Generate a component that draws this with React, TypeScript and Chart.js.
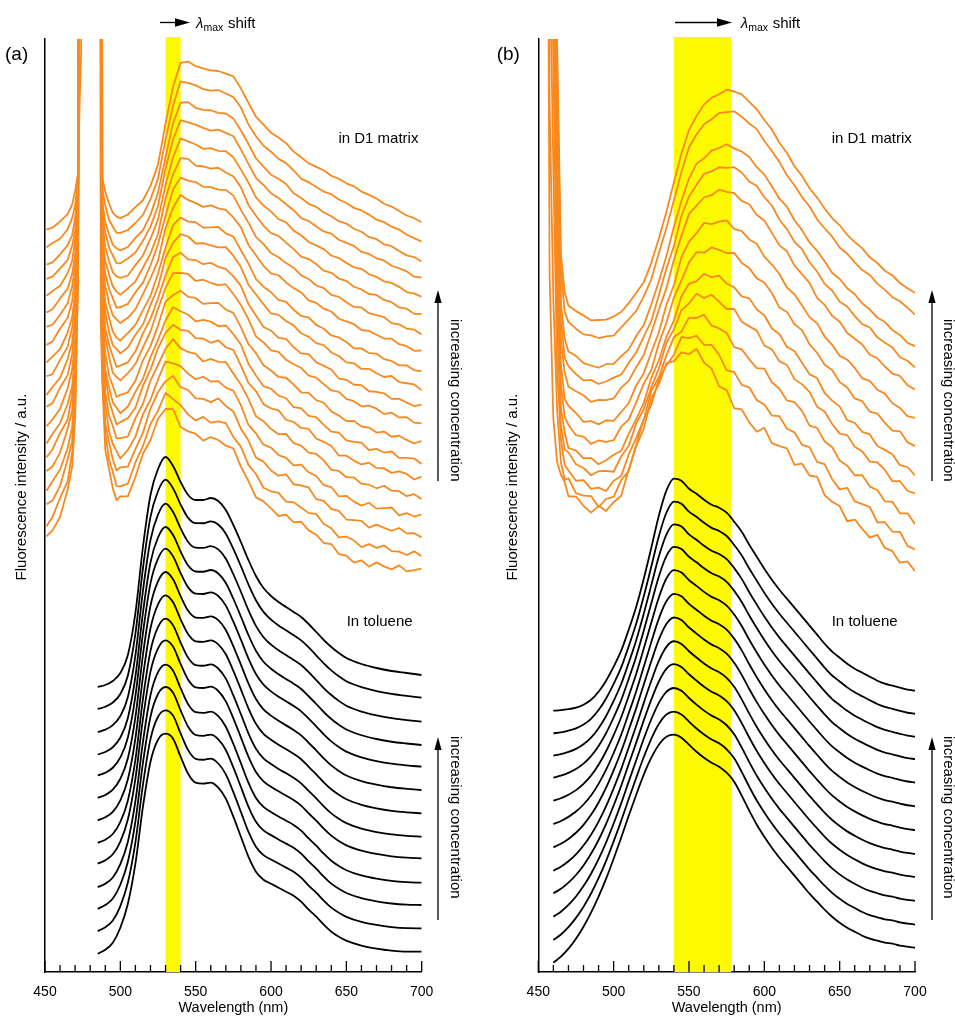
import React, { useEffect, useRef } from 'react';
import { Chart, registerables } from 'chart.js';

Chart.register(...registerables);

const FONT = '"Liberation Sans", Arial, Helvetica, sans-serif';
Chart.defaults.font.family = FONT;

// ---------- axis ----------
const X_MIN = 450;
const X_MAX = 700;
const Y_MAX = 933;

// ---------- highlighted λmax bands ----------
const BAND_A = [530, 540];
const BAND_B = [540, 578];

// ---------- small hand-read ripple (measurement noise of the film spectra) ----------
const RIPPLE = [0.4, -0.9, 0.7, -0.2, -0.8, 1.0, -0.5, 0.2, 0.9, -1.0, 0.3, -0.4, 0.8, -0.7, 0.1, 0.6, -0.9, 0.5, -0.1, -0.6, 1.0, -0.3, 0.2, -0.8, 0.7, 0.4, -1.0, 0.6, -0.2, 0.9, -0.5, 0.0, -0.7, 0.8, -0.4, 0.3, -0.9];

// ================= Panel (a) =================
// toluene: stacked traces, value relative to each trace's level (700 nm)
const WL_TOL_A = [485, 490, 495, 500, 505, 510, 515, 520, 525, 530, 535, 540, 545, 550, 555, 560, 565, 570, 575, 580, 585, 590, 595, 600, 605, 610, 615, 620, 625, 630, 635, 640, 645, 650, 660, 670, 680, 690, 700];
const TOL_A_HIGH = [-12, -10, -6, 2, 20, 62, 128, 180, 206, 218, 209, 193, 180, 175, 175, 177, 174, 165, 150, 133, 115, 99, 87, 79, 73, 68, 63, 58, 51, 43, 35, 28, 22, 17, 11, 7, 4, 2, 0];
const TOL_A_LOW = [-2, 2, 9, 24, 48, 88, 145, 190, 212, 218, 213, 195, 178, 169, 168, 169, 164, 153, 135, 115, 95, 80, 72, 68, 64, 60, 56, 50, 42, 35, 27, 20, 15, 11, 6, 3, 1, 0, 0];
const TOL_A_LEVEL = [297, 274.3, 250.3, 227, 205.3, 182, 158.7, 135.3, 113.7, 89.3, 67, 43.7, 20.3];
const TOL_A_MIX = [0, 0.08, 0.17, 0.25, 0.33, 0.42, 0.5, 0.58, 0.67, 0.75, 0.83, 0.92, 1];

// D1 matrix film
const WL_D1_A = [451, 455, 460, 465, 468, 470, 472, 473, 474, 475, 480, 486, 487, 488, 490, 492.5, 495, 497.5, 500, 505, 510, 515, 520, 525, 530, 535, 540, 545, 550, 555, 560, 565, 570, 575, 580, 585, 590, 595, 600, 605, 610, 615, 620, 625, 630, 635, 640, 645, 650, 655, 660, 665, 670, 675, 680, 685, 690, 695, 700];
const D1_A_HIGH = [-8, -5, 0, 8, 18, 30, 50, 120, 170, 2500, 2500, 2500, 2500, 45, 30, 18, 10, 5, 4, 8, 14, 22, 36, 58, 98, 135, 160, 160, 156, 153, 152, 151, 149, 145, 134, 119, 106, 97, 90, 84, 79, 71, 64, 59, 55, 51, 47, 43, 39, 35, 31, 27, 23, 19, 15, 11, 7, 3, 0];
const D1_A_LOW = [33, 40, 58, 80, 105, 150, 300, 2500, 2500, 2500, 2500, 2500, 250, 190, 125, 100, 84, 74, 72, 77, 94, 115, 135, 152, 164, 160, 147, 140, 136, 134, 133, 132, 128, 120, 106, 90, 77, 68, 62, 59, 55, 50, 47, 43, 37, 31, 25, 19, 15, 12, 10, 8, 7, 6, 5, 3, 2, 1, 0];
const D1_A_LEVEL = [750, 731, 711, 693.7, 675.3, 657, 638.7, 620.3, 600.3, 583.7, 565.3, 548.7, 528.7, 510.3, 493.7, 475.3, 455.3, 437, 417, 400.3];
const D1_A_MIX = [0, 0.05, 0.1, 0.16, 0.21, 0.26, 0.32, 0.37, 0.42, 0.47, 0.53, 0.58, 0.63, 0.68, 0.74, 0.79, 0.84, 0.89, 0.95, 1];
const D1_A_NOISE = [0.8, 0.9, 1.1, 1.2, 1.3, 1.5, 1.6, 1.7, 1.9, 2, 2.1, 2.3, 2.4, 2.5, 2.7, 2.8, 2.9, 3.1, 3.2, 3.3];

// ================= Panel (b) =================
const WL_TOL_B = [460, 465, 470, 475, 480, 485, 490, 495, 500, 505, 510, 515, 520, 525, 530, 535, 540, 545, 550, 555, 560, 565, 570, 575, 580, 585, 590, 595, 600, 605, 610, 615, 620, 625, 630, 635, 640, 645, 650, 655, 660, 665, 670, 675, 680, 685, 690, 695, 700];
const TOL_B_HIGH = [0, 0.5, 1.5, 3, 6, 11, 19, 30, 44, 60, 81, 104, 132, 163, 195, 220, 232, 230, 222, 217, 211, 206, 203, 198, 189, 179, 166, 154, 142, 131, 121, 112, 103, 94, 85, 76, 67, 59, 53, 47, 42, 38, 34, 30, 27, 25, 23, 21, 20];
const TOL_B_LOW = [0, 6, 14, 24, 36, 50, 66, 84, 104, 125, 147, 168, 188, 205, 218, 226, 228, 225, 218, 211, 205, 200, 196, 190, 181, 167, 152, 138, 126, 115, 105, 96, 87, 78, 69, 61, 53, 46, 40, 35, 31, 27, 24, 22, 20, 19, 17, 16, 15];
const TOL_B_LEVEL = [261.3, 238.7, 216.3, 194.3, 171.3, 148, 124.7, 101.3, 78.7, 55.3, 32, 9.3];
const TOL_B_MIX = [0, 0.09, 0.18, 0.27, 0.36, 0.45, 0.55, 0.64, 0.73, 0.82, 0.91, 1];

const WL_D1_B = [455, 457.5, 460, 462.5, 465, 467.5, 470, 475, 480, 485, 490, 495, 500, 505, 510, 515, 520, 525, 530, 535, 540, 545, 550, 555, 560, 565, 570, 575, 580, 585, 590, 595, 600, 605, 610, 615, 620, 625, 630, 635, 640, 645, 650, 655, 660, 665, 670, 675, 680, 685, 690, 695, 700];
const D1_B_HIGH = [1500, 1200, 800, 250, 40, 0, -12, -18, -23, -26, -27, -26, -24, -18, -10, 0, 12, 30, 55, 82, 110, 140, 163, 178, 188, 195, 200, 203, 202, 198, 192, 184, 174, 163, 151, 140, 128, 117, 106, 95, 85, 76, 67, 59, 51, 44, 37, 30, 23, 17, 11, 5, 0];
const D1_B_LOW = [1200, 300, 150, 115, 98, 88, 82, 74, 68, 64, 62, 64, 70, 82, 100, 125, 150, 172, 190, 205, 215, 221, 223, 220, 213, 203, 192, 181, 170, 160, 152, 146, 140, 133, 126, 120, 114, 108, 100, 92, 82, 71, 64, 57, 51, 45, 39, 33, 27, 21, 15, 8, 0];
const D1_B_LEVEL = [678.7, 658.7, 625.3, 605.3, 582, 552, 525.3, 497, 475.3, 448.7, 422, 398.7];
const D1_B_MIX = [0, 0.03, 0.08, 0.12, 0.18, 0.26, 0.35, 0.45, 0.56, 0.69, 0.84, 1];
const D1_B_NOISE = [1, 1.3, 1.6, 2, 2.3, 2.6, 3, 3.3, 3.7, 4.2, 4.8, 5.5];

const ORANGE = '#f7891f';
const BLACK = '#000000';
const YELLOW = '#fcf900';

function buildGroup(wl: number[], hi: number[], lo: number[], levels: number[], mix: number[], noise: number[] | null, color: string, width: number, smooth: boolean) {
  return levels.map((lvl, i) => ({
    data: wl.map((w, j) => {
      const rel = hi[j] * (1 - mix[i]) + lo[j] * mix[i];
      const n = noise && Math.abs(rel) < 1000 ? noise[i] * RIPPLE[(j + i * 11) % RIPPLE.length] : 0;
      return { x: w, y: lvl + rel + n };
    }),
    borderColor: color,
    borderWidth: width,
    borderJoinStyle: 'round',
    pointRadius: 0,
    fill: false,
    tension: smooth ? 0.4 : 0,
    cubicInterpolationMode: smooth ? 'monotone' : 'default',
    clip: 0,
  }));
}

type Decor = {
  tag: string; tagX: number; arrow: [number, number]; lambdaX: number; yTitleX: number;
  d1X: number; tolX: number; incArrowX: number; incTextX: number; band: number[];
};

function makePlugins(d: Decor) {
  const band = {
    id: 'band',
    beforeDatasetsDraw(chart: any) {
      const { ctx, chartArea, scales } = chart;
      const x1 = scales.x.getPixelForValue(d.band[0]);
      const x2 = scales.x.getPixelForValue(d.band[1]);
      ctx.save();
      ctx.fillStyle = YELLOW;
      ctx.fillRect(x1, chartArea.top - 2, x2 - x1, chartArea.bottom - chartArea.top + 2);
      ctx.restore();
    },
  };
  const decor = {
    id: 'decor',
    afterDraw(chart: any) {
      const { ctx, chartArea, scales } = chart;
      const xs = scales.x;
      ctx.save();
      // inward tick marks
      ctx.strokeStyle = '#000';
      ctx.lineWidth = 1.3;
      for (let v = X_MIN; v <= X_MAX; v += 10) {
        const px = xs.getPixelForValue(v);
        const len = v % 50 === 0 ? 11 : 7;
        ctx.beginPath();
        ctx.moveTo(px, chartArea.bottom);
        ctx.lineTo(px, chartArea.bottom - len);
        ctx.stroke();
      }
      ctx.fillStyle = '#000';
      // panel tag
      ctx.font = `19px ${FONT}`;
      ctx.textBaseline = 'middle';
      ctx.textAlign = 'left';
      ctx.fillText(d.tag, d.tagX, 55);
      // lambda max shift arrow
      const [a1, a2] = d.arrow;
      ctx.lineWidth = 1.3;
      ctx.beginPath();
      ctx.moveTo(a1, 22.5);
      ctx.lineTo(a2 - 8, 22.5);
      ctx.stroke();
      ctx.beginPath();
      ctx.moveTo(a2 - 15, 18.3);
      ctx.lineTo(a2, 22.5);
      ctx.lineTo(a2 - 15, 26.7);
      ctx.closePath();
      ctx.fill();
      ctx.textBaseline = 'alphabetic';
      ctx.font = `italic 15px ${FONT}`;
      ctx.fillText('λ', d.lambdaX, 27.5);
      ctx.font = `10.5px ${FONT}`;
      ctx.fillText('max', d.lambdaX + 7.5, 31);
      ctx.font = `15px ${FONT}`;
      ctx.fillText('shift', d.lambdaX + 32, 27.5);
      // labels
      ctx.fillText('in D1 matrix', d.d1X, 143);
      ctx.fillText('In toluene', d.tolX, 626);
      // y title
      ctx.save();
      ctx.translate(d.yTitleX, 487);
      ctx.rotate(-Math.PI / 2);
      ctx.textAlign = 'center';
      ctx.textBaseline = 'middle';
      ctx.font = `15px ${FONT}`;
      ctx.fillText('Fluorescence intensity / a.u.', 0, 0);
      ctx.restore();
      // increasing concentration arrows
      const incs = [
        { tip: 290, tail: 481, text: 319 },
        { tip: 737, tail: 920, text: 736 },
      ];
      for (const inc of incs) {
        ctx.lineWidth = 1.3;
        ctx.beginPath();
        ctx.moveTo(d.incArrowX, inc.tail);
        ctx.lineTo(d.incArrowX, inc.tip + 8);
        ctx.stroke();
        ctx.beginPath();
        ctx.moveTo(d.incArrowX - 3.6, inc.tip + 13);
        ctx.lineTo(d.incArrowX, inc.tip);
        ctx.lineTo(d.incArrowX + 3.6, inc.tip + 13);
        ctx.closePath();
        ctx.fill();
        ctx.save();
        ctx.translate(d.incTextX, inc.text);
        ctx.rotate(Math.PI / 2);
        ctx.textAlign = 'left';
        ctx.textBaseline = 'middle';
        ctx.font = `15px ${FONT}`;
        ctx.fillText('increasing concentration', 0, 0);
        ctx.restore();
      }
      ctx.restore();
    },
  };
  return [band, decor];
}

function makeConfig(datasets: any[], d: Decor, yWidth: number, padRight: number) {
  return {
    type: 'line' as const,
    data: { datasets },
    options: {
      animation: false as const,
      responsive: false,
      maintainAspectRatio: false,
      events: [] as any[],
      layout: { padding: { top: 39, right: padRight, left: 0, bottom: 0 } },
      plugins: { legend: { display: false }, tooltip: { enabled: false }, title: { display: false } },
      scales: {
        x: {
          type: 'linear' as const,
          min: X_MIN,
          max: X_MAX,
          afterFit: (s: any) => { s.height = 45; },
          ticks: { stepSize: 50, color: '#000', font: { family: FONT, size: 14 }, padding: 12, maxRotation: 0, autoSkip: false, callback: (v: any) => String(v) },
          grid: { display: false, drawTicks: false },
          border: { display: true, color: '#000', width: 1.5 },
          title: { display: true, text: 'Wavelength (nm)', color: '#000', font: { family: FONT, size: 14.5 }, padding: 0 },
        },
        y: {
          type: 'linear' as const,
          min: 0,
          max: Y_MAX,
          afterFit: (s: any) => { s.width = yWidth; },
          ticks: { display: false },
          grid: { display: false, drawTicks: false },
          border: { display: true, color: '#000', width: 1.5 },
          title: { display: false },
        },
      },
    },
    plugins: makePlugins(d),
  };
}

const DECOR_A: Decor = { tag: '(a)', tagX: 5, arrow: [160, 190], lambdaX: 196, yTitleX: 22, d1X: 338.4, tolX: 346.7, incArrowX: 438, incTextX: 455, band: BAND_A };
const DECOR_B: Decor = { tag: '(b)', tagX: 6.7, arrow: [185, 242], lambdaX: 250.7, yTitleX: 23, d1X: 341.7, tolX: 341.7, incArrowX: 442, incTextX: 458, band: BAND_B };

function Panel({ which }: { which: 'a' | 'b' }) {
  const ref = useRef<HTMLCanvasElement>(null);
  const w = which === 'a' ? 490 : 465;
  useEffect(() => {
    let datasets: any[];
    let cfg: any;
    if (which === 'a') {
      datasets = [
        ...buildGroup(WL_D1_A, D1_A_HIGH, D1_A_LOW, D1_A_LEVEL, D1_A_MIX, D1_A_NOISE, ORANGE, 1.8, false),
        ...buildGroup(WL_TOL_A, TOL_A_HIGH, TOL_A_LOW, TOL_A_LEVEL, TOL_A_MIX, null, BLACK, 1.8, true),
      ];
      cfg = makeConfig(datasets, DECOR_A, 45, 68.3);
    } else {
      datasets = [
        ...buildGroup(WL_D1_B, D1_B_HIGH, D1_B_LOW, D1_B_LEVEL, D1_B_MIX, D1_B_NOISE, ORANGE, 1.8, false),
        ...buildGroup(WL_TOL_B, TOL_B_HIGH, TOL_B_LOW, TOL_B_LEVEL, TOL_B_MIX, null, BLACK, 1.8, true),
      ];
      cfg = makeConfig(datasets, DECOR_B, 48.3, 40);
    }
    const chart = new Chart(ref.current as HTMLCanvasElement, cfg);
    return () => chart.destroy();
  }, [which]);
  return (
    <canvas
      ref={ref}
      width={w}
      height={1017}
      style={{ position: 'absolute', top: 0, left: which === 'a' ? 0 : 490, width: w, height: 1017 }}
    />
  );
}

export default function App() {
  return (
    <div style={{ position: 'absolute', left: 0, top: 0, width: 955, height: 1017, background: '#fff', overflow: 'hidden' }}>
      <Panel which="a" />
      <Panel which="b" />
    </div>
  );
}
